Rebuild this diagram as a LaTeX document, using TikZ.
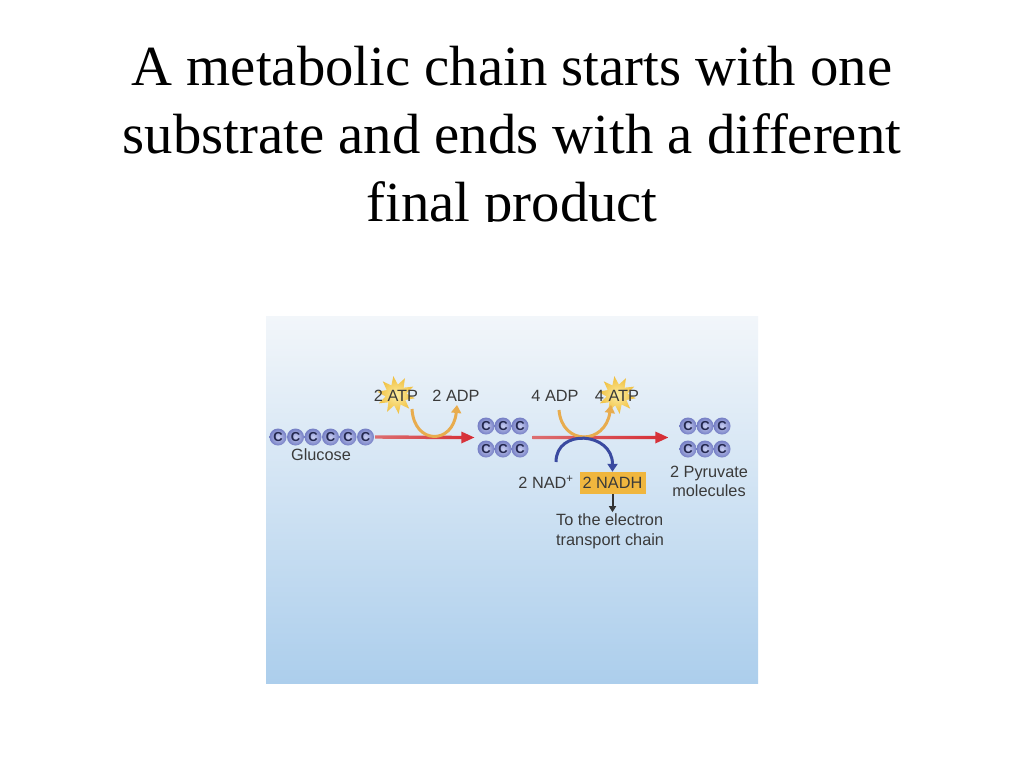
\documentclass[tikz,border=0pt]{standalone}
\usepackage{fontspec}
\setmainfont{Liberation Serif}
\newfontfamily\arialf{Liberation Sans}
\usetikzlibrary{arrows.meta,calc,shapes.geometric}
\definecolor{bgtop}{RGB}{242,246,250}
\definecolor{bgbot}{RGB}{172,206,236}
\definecolor{cin}{RGB}{200,206,242}
\definecolor{cout}{RGB}{116,126,196}
\definecolor{cdark}{RGB}{36,40,78}
\definecolor{txt}{RGB}{58,58,58}
\definecolor{orarc}{RGB}{232,172,78}
\definecolor{blarc}{RGB}{58,74,160}
\definecolor{redL}{RGB}{220,110,112}
\definecolor{redR}{RGB}{214,44,52}
\definecolor{starin}{RGB}{252,236,160}
\definecolor{starout}{RGB}{240,190,60}
\definecolor{nadhcol}{RGB}{240,182,62}
\begin{document}
\begin{tikzpicture}[x=1pt,y=-1pt,
  carbon/.style={circle,minimum size=17,inner sep=0,inner color=cin,outer color=cout,
    font=\arialf\bfseries\fontsize{13}{13}\selectfont,text=cdark},
  lbl/.style={font=\arialf\fontsize{16.3}{20}\selectfont,text=txt,inner sep=1},
  burst/.style={star,star points=10,star point ratio=1.8,minimum size=38,inner sep=0,
    inner color=starin,outer color=starout},
  titletxt/.style={font=\fontsize{56.7}{68}\selectfont,anchor=base,inner sep=0},
  orange arc/.style={draw=orarc,line width=3,-{Triangle[length=8,width=10]}},
  blue arc/.style={draw=blarc,line width=3,-{Triangle[length=8,width=10]}},
  black arrow/.style={draw=black!80,line width=2,-{Triangle[length=6,width=7]}}]
\useasboundingbox (0,0) rectangle (1024,768);
\fill[white] (0,0) rectangle (1024,768);
% title (clipped at the bottom like the reference)
\begin{scope}
\clip (0,0) rectangle (1024,221.5);
\node[titletxt] (t1) at (512,85) {A metabolic chain starts with one};
\node[titletxt] (t2) at (512,153) {substrate and ends with a different};
\node[titletxt] (t3) at (512,221) {final product};
\end{scope}
% background panel
\shade[top color=bgtop,bottom color=bgbot] (266,316) rectangle (758,683);
% glucose chain
\foreach \i in {1,...,6} {
  \node[carbon] (g\i) at ({278+17.5*(\i-1)},437) {C};
}
\node[lbl] (glu) at (321,455) {Glucose};
% middle and right carbons
\foreach \i/\x in {1/486,2/503,3/520} {
  \node[carbon] (m\i) at (\x,426) {C};
  \node[carbon] (n\i) at (\x,449) {C};
  \node[carbon] (p\i) at ({\x+202},426) {C};
  \node[carbon] (q\i) at ({\x+202},449) {C};
}
\coordinate (mL) at ($(m1.west)!0.5!(n1.west)$);
\coordinate (mR) at ($(m3.east)!0.5!(n3.east)$);
\coordinate (pL) at ($(p1.west)!0.5!(q1.west)$);
% red arrows
\coordinate (a1s) at ($(g6.east)+(1,0)$);
\coordinate (a1e) at ($(mL)+(-3,0)$);
\shade[left color=redL,right color=redR]
  ($(a1s)+(0,-1.7)$) -- ($(a1e)+(-13,-1.7)$) -- ($(a1e)+(-13,-6)$) -- (a1e)
  -- ($(a1e)+(-13,6)$) -- ($(a1e)+(-13,1.7)$) -- ($(a1s)+(0,1.7)$) -- cycle;
\coordinate (a2s) at ($(mR)+(4,0)$);
\coordinate (a2e) at ($(pL)+(-11,0)$);
\shade[left color=redL,right color=redR]
  ($(a2s)+(0,-1.7)$) -- ($(a2e)+(-13,-1.7)$) -- ($(a2e)+(-13,-6)$) -- (a2e)
  -- ($(a2e)+(-13,6)$) -- ($(a2e)+(-13,1.7)$) -- ($(a2s)+(0,1.7)$) -- cycle;
% ATP / ADP
\node[burst,rotate=8] (s1) at (396,395) {};
\node[lbl] (atp1) at (396,396) {2 ATP};
\node[lbl] (adp1) at (456,396) {2 ADP};
\node[lbl] (adp2) at (555,396) {4 ADP};
\node[burst,rotate=8] (s2) at (617,395) {};
\node[lbl] (atp2) at (617,396) {4 ATP};
\draw[orange arc] ($(atp1.center)+(16,13)$) .. controls +(2,36) and +(-4,40) .. ($(adp1.center)+(1,9)$);
\draw[orange arc] ($(adp2.center)+(4,14)$) .. controls +(3,36) and +(-6,40) .. ($(atp2.center)+(-6,9)$);
% NAD
\node[lbl] (nad) at (546,482) {2 NAD\textsuperscript{+}};
\node[lbl,fill=nadhcol,minimum width=66,minimum height=22,inner sep=2] (nadh) at (612.5,483) {2 NADH};
\draw[blue arc] ($(nad.center)+(10,-20)$) .. controls +(0,-34) and +(0,-40) .. (nadh.north);
\coordinate (etc) at ($(nadh.south)+(0,18)$);
\draw[black arrow] (nadh.south) -- (etc);
\node[lbl,align=left,anchor=north west,inner sep=0] (etxt) at (556,513) {To the electron\\transport chain};
\node[lbl,align=center,font=\arialf\fontsize{16.3}{19}\selectfont] (pyr) at (709,481) {2 Pyruvate\\molecules};
\end{tikzpicture}
\end{document}
